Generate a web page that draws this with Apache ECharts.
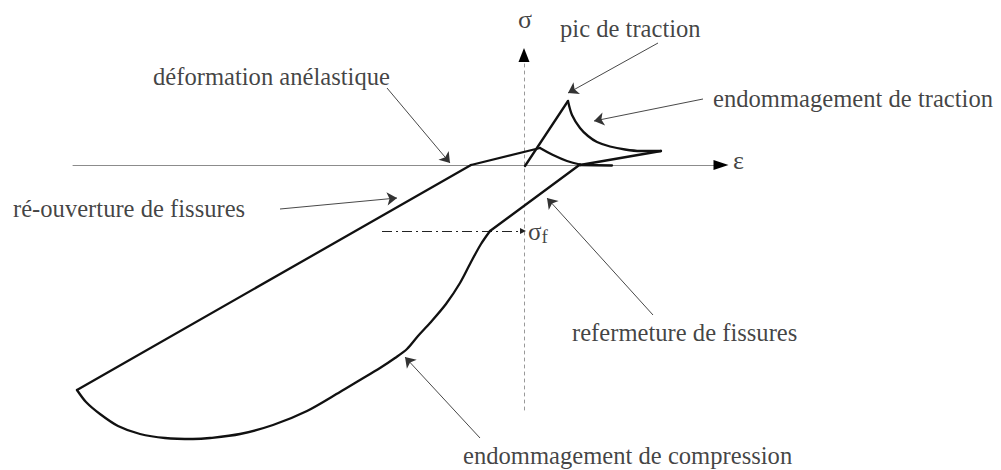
<!DOCTYPE html>
<html>
<head>
<meta charset="utf-8">
<script src="https://cdn.jsdelivr.net/npm/echarts@6/dist/echarts.min.js"></script>
<style>
  html, body { margin: 0; padding: 0; background: #fff; }
  #chart { width: 1001px; height: 470px; }
</style>
</head>
<body>
<div id="chart"></div>
<script>
// Schematic σ–ε loop of a damaged concrete under cyclic loading.
// x = strain ε, y = stress σ, in arbitrary units; (0, 0) is where the axes cross.

// Compression side
const anelasticBranch = [[-5.3, 0], [1.6, 1.7]];
const crackClosureArc = [[1.6, 1.7], [2.9, 1.0], [4.3, 0.4], [5.6, 0.05]];
const reloadBranch = [[5.6, 0.05], [-3.4, -6.6]];
const compressionDamage = [
  [-3.4, -6.6], [-4.3, -7.9], [-5.3, -9.7], [-6.4, -11.8], [-7.8, -13.9],
  [-9.4, -15.8], [-10.6, -17.1], [-11.7, -18.4], [-12.9, -19.3], [-14.4, -20.3],
  [-16.4, -21.5], [-18.4, -22.7], [-21.7, -24.6], [-25.1, -26.0], [-28.4, -26.9],
  [-31.4, -27.3], [-33.1, -27.4], [-35.9, -27.3], [-38.4, -26.9], [-40.6, -26.1],
  [-42.4, -24.9], [-43.8, -23.7], [-44.7, -22.5]
];
const crackReopening = [[-44.7, -22.5], [-5.3, 0]];

// Tension side
const tensionLoading = [[0.1, -0.1], [4.4, 6.4]];
const tensionDamage = [
  [4.4, 6.4], [4.8, 5.0], [5.6, 3.7], [6.4, 2.9], [7.3, 2.3],
  [8.6, 1.85], [10.1, 1.55], [11.6, 1.4], [13.7, 1.4]
];
const tensionUnloading = [[13.7, 1.4], [5.6, 0.0]];
const closedCrackContact = [[5.6, 0.0], [8.8, -0.05]];

// Compressive threshold σf
const sigmaF = -6.6;
const sigmaFFrom = -14.2;

// Axis extents
const strainRange = [-45.1, 19.7];
const stressRange = [-24.5, 11.0];

// Callouts: text, anchor of the text (left edge, middle), arrow tail, arrow head
const calloutTexts = [
  'pic de traction',
  'endommagement de traction',
  'déformation anélastique',
  'ré-ouverture de fissures',
  'refermeture de fissures',
  'endommagement de compression'
];
const calloutAnchors = [[3.6, 13.7], [18.9, 6.7], [-37.1, 8.9], [-51.1, -4.3], [4.8, -16.7], [-6.1, -29.0]];
const calloutTails = [[13.4, 12.2], [17.9, 6.6], [-13.7, 7.7], [-24.4, -4.4], [12.9, -15.0], [-4.4, -27.3]];
const calloutHeads = [[4.4, 7.2], [7.0, 4.4], [-7.4, 0.2], [-12.7, -3.3], [2.3, -3.3], [-11.9, -19.2]];

// Axis symbols
const stressSymbol = 'σ';
const strainSymbol = 'ε';
const stressSymbolAt = [0.1, 14.6];
const strainSymbolAt = [20.9, 0.5];
const sigmaFLabelAt = [0.4, -6.6];

const serif = "'Liberation Serif', 'Times New Roman', serif";
const ink = '#111';
const textSize = 24.6;

function curve(data, smooth) {
  return {
    type: 'line',
    data: data,
    smooth: smooth || false,
    showSymbol: false,
    clip: false,
    silent: true,
    lineStyle: { color: ink, width: 2.3, cap: 'round', join: 'round' },
    z: 5
  };
}

const chart = echarts.init(document.getElementById('chart'), null, { renderer: 'svg' });

chart.setOption({
  animation: false,
  backgroundColor: '#fff',
  grid: { left: 73, right: 280, top: 55, bottom: 60, containLabel: false, outerBoundsMode: 'none' },
  xAxis: {
    type: 'value',
    min: strainRange[0],
    max: strainRange[1],
    axisLine: {
      show: true,
      onZero: true,
      symbol: ['none', 'triangle'],
      symbolSize: [10, 15],
      lineStyle: { color: '#000', opacity: 0.45, width: 1 }
    },
    axisTick: { show: false },
    axisLabel: { show: false },
    splitLine: { show: false }
  },
  yAxis: {
    type: 'value',
    min: stressRange[0],
    max: stressRange[1],
    axisLine: {
      show: true,
      onZero: true,
      symbol: ['none', 'triangle'],
      symbolSize: [11, 14],
      lineStyle: { color: '#000', opacity: 0.4, width: 1, type: [3, 4] }
    },
    axisTick: { show: false },
    axisLabel: { show: false },
    splitLine: { show: false }
  },
  series: [
    curve(anelasticBranch),
    curve(crackClosureArc, 0.4),
    curve(reloadBranch),
    curve(compressionDamage, 0.3),
    curve(crackReopening),
    curve(tensionLoading),
    curve(tensionDamage, 0.3),
    curve(tensionUnloading),
    curve(closedCrackContact),
    {
      // σf level, dash-dot
      type: 'lines',
      coordinateSystem: 'cartesian2d',
      clip: false,
      silent: true,
      symbol: ['none', 'triangle'],
      symbolSize: [4, 6],
      lineStyle: { color: '#222', width: 1, type: [10, 4, 2, 4], opacity: 1 },
      data: [{ coords: [[sigmaFFrom, sigmaF], [-0.1, sigmaF]] }]
    },
    {
      // callout arrows
      type: 'lines',
      coordinateSystem: 'cartesian2d',
      clip: false,
      silent: true,
      symbol: ['none', 'arrow'],
      symbolSize: [5, 10],
      lineStyle: { color: '#333', width: 0.9, opacity: 1 },
      data: calloutTails.map((t, i) => ({ coords: [t, calloutHeads[i]] }))
    },
    {
      // callout texts
      type: 'scatter',
      clip: false,
      silent: true,
      symbolSize: 0,
      label: {
        show: true,
        position: 'right',
        distance: 0,
        fontFamily: serif,
        fontSize: textSize,
        color: ink,
        formatter: p => calloutTexts[p.dataIndex]
      },
      data: calloutAnchors
    },
    {
      // axis symbols σ, ε and σf
      type: 'scatter',
      clip: false,
      silent: true,
      symbolSize: 0,
      label: { show: true, fontFamily: serif, fontSize: 26, color: ink },
      data: [
        { value: stressSymbolAt, label: { position: 'inside', formatter: stressSymbol } },
        { value: strainSymbolAt, label: { position: 'right', distance: 0, formatter: strainSymbol } },
        {
          value: sigmaFLabelAt,
          label: {
            position: 'right',
            distance: 0,
            formatter: '{s|σ}{f|f}',
            rich: {
              s: { fontFamily: serif, fontSize: 25, color: ink, lineHeight: 30, verticalAlign: 'middle' },
              f: { fontFamily: serif, fontSize: 19, color: ink, lineHeight: 30, verticalAlign: 'bottom' }
            }
          }
        }
      ]
    }
  ]
});
</script>
</body>
</html>
